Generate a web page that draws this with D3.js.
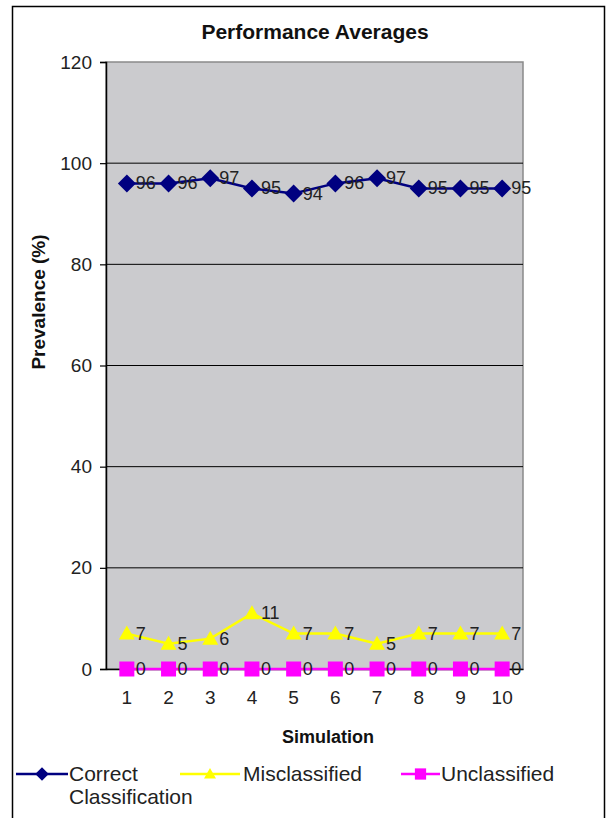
<!DOCTYPE html>
<html>
<head>
<meta charset="utf-8">
<script src="https://cdn.jsdelivr.net/npm/d3@7"></script>
<style>
  html, body { margin: 0; padding: 0; background: #fff; }
  svg { display: block; font-family: "Liberation Sans", Arial, sans-serif; }
</style>
</head>
<body>
<svg id="chart" width="613" height="818"></svg>
<script>
// Simulation runs along the category axis
const simulations = ["1", "2", "3", "4", "5", "6", "7", "8", "9", "10"];
// Average prevalence (%) per simulation
const correctClassification = [96, 96, 97, 95, 94, 96, 97, 95, 95, 95];
const misclassified = [7, 5, 6, 11, 7, 7, 5, 7, 7, 7];
const unclassified = [0, 0, 0, 0, 0, 0, 0, 0, 0, 0];
const yTicks = [0, 20, 40, 60, 80, 100, 120];

const series = [
  { name: "Correct Classification", lines: ["Correct", "Classification"], values: correctClassification, color: "#000080", marker: "diamond" },
  { name: "Misclassified", lines: ["Misclassified"], values: misclassified, color: "#ffff00", marker: "triangle" },
  { name: "Unclassified", lines: ["Unclassified"], values: unclassified, color: "#ff00ff", marker: "square" }
];

const svg = d3.select("#chart");
const plot = { left: 106, right: 523, top: 62, bottom: 669 };

const x = d3.scaleBand().domain(simulations).range([plot.left, plot.right]).paddingInner(0).paddingOuter(0);
const y = d3.scaleLinear().domain([0, 120]).range([plot.bottom, plot.top]);
const cx = d => x(d) + x.bandwidth() / 2;

// Outer chart frame (open at the bottom)
svg.append("path")
  .attr("d", "M12.5,818 V6.5 H604.5 V818")
  .attr("fill", "none").attr("stroke", "#000").attr("stroke-width", 1.5);

// Title
svg.append("text")
  .attr("x", 315).attr("y", 39)
  .attr("text-anchor", "middle")
  .attr("font-weight", "bold").attr("font-size", 21)
  .attr("fill", "#111")
  .text("Performance Averages");

// Plot area
svg.append("rect")
  .attr("x", plot.left).attr("y", plot.top)
  .attr("width", plot.right - plot.left).attr("height", plot.bottom - plot.top)
  .attr("fill", "#cbcbce").attr("stroke", "#8a8a8a").attr("stroke-width", 1.5);

// Horizontal gridlines
svg.append("g").selectAll("line")
  .data(yTicks.filter(t => t > 0 && t < 120))
  .join("line")
  .attr("x1", plot.left).attr("x2", plot.right)
  .attr("y1", d => y(d)).attr("y2", d => y(d))
  .attr("stroke", "#000").attr("stroke-width", 1);

// Y axis
const yAxis = svg.append("g")
  .attr("transform", `translate(${plot.left},0)`)
  .call(d3.axisLeft(y).tickValues(yTicks).tickSize(6).tickPadding(8).tickFormat(d3.format("d")));
yAxis.select(".domain").attr("stroke", "#000").attr("stroke-width", 1.5);
yAxis.selectAll(".tick line").attr("stroke", "#000").attr("stroke-width", 1.2);
yAxis.selectAll(".tick text")
  .attr("font-size", 19).attr("fill", "#222")
  .attr("font-family", "\"Liberation Sans\", Arial, sans-serif");

// X axis (category labels under the zero line)
const xAxis = svg.append("g")
  .attr("transform", `translate(0,${plot.bottom})`)
  .call(d3.axisBottom(x).tickSize(0).tickPadding(22));
xAxis.select(".domain").attr("stroke", "#000").attr("stroke-width", 1.5);
xAxis.selectAll(".tick text")
  .attr("font-size", 19).attr("fill", "#222")
  .attr("font-family", "\"Liberation Sans\", Arial, sans-serif");

// Axis titles
svg.append("text")
  .attr("x", 328).attr("y", 743)
  .attr("text-anchor", "middle")
  .attr("font-weight", "bold").attr("font-size", 18).attr("fill", "#111")
  .text("Simulation");
svg.append("text")
  .attr("transform", "translate(45,302) rotate(-90)")
  .attr("text-anchor", "middle")
  .attr("font-weight", "bold").attr("font-size", 19).attr("fill", "#111")
  .text("Prevalence (%)");

// Marker shapes: rotated-square diamond, triangle, square
const markerPath = {
  diamond: () => "M0,-9L9,0L0,9L-9,0Z",
  triangle: () => "M0,-8L8,6L-8,6Z",
  square: () => "M-7.5,-7.5H7.5V7.5H-7.5Z"
};

const line = d3.line().x(d => cx(d.cat)).y(d => y(d.v));

// Draw bottom series first so the navy line sits on top
[...series].reverse().forEach(s => {
  const pts = simulations.map((c, i) => ({ cat: c, v: s.values[i] }));
  const g = svg.append("g");
  g.append("path")
    .datum(pts)
    .attr("d", line)
    .attr("fill", "none").attr("stroke", s.color).attr("stroke-width", 2.5);
  g.selectAll("path.mk")
    .data(pts)
    .join("path").attr("class", "mk")
    .attr("transform", d => `translate(${cx(d.cat)},${y(d.v)})`)
    .attr("d", markerPath[s.marker])
    .attr("fill", s.color);
  // Value labels to the right of each marker
  g.selectAll("text")
    .data(pts)
    .join("text")
    .attr("x", d => cx(d.cat) + 9)
    .attr("y", d => y(d.v) + 6)
    .attr("font-size", 18).attr("fill", "#222")
    .text(d => d3.format("d")(d.v));
});

// Legend
const legend = [
  { x0: 16, x1: 68, tx: 69 },
  { x0: 180, x1: 240, tx: 243 },
  { x0: 401, x1: 440, tx: 441 }
];
series.forEach((s, i) => {
  const L = legend[i];
  const ly = 774;
  const g = svg.append("g");
  g.append("line")
    .attr("x1", L.x0).attr("x2", L.x1).attr("y1", ly).attr("y2", ly)
    .attr("stroke", s.color).attr("stroke-width", 2.5);
  g.append("path")
    .attr("transform", `translate(${(L.x0 + L.x1) / 2},${ly}) scale(0.75)`)
    .attr("d", markerPath[s.marker])
    .attr("fill", s.color);
  const t = g.append("text")
    .attr("x", L.tx).attr("y", ly + 7)
    .attr("font-size", 21).attr("fill", "#222");
  s.lines.forEach((ln, k) => {
    t.append("tspan").attr("x", L.tx).attr("dy", k === 0 ? 0 : 23).text(ln);
  });
});
</script>
</body>
</html>
